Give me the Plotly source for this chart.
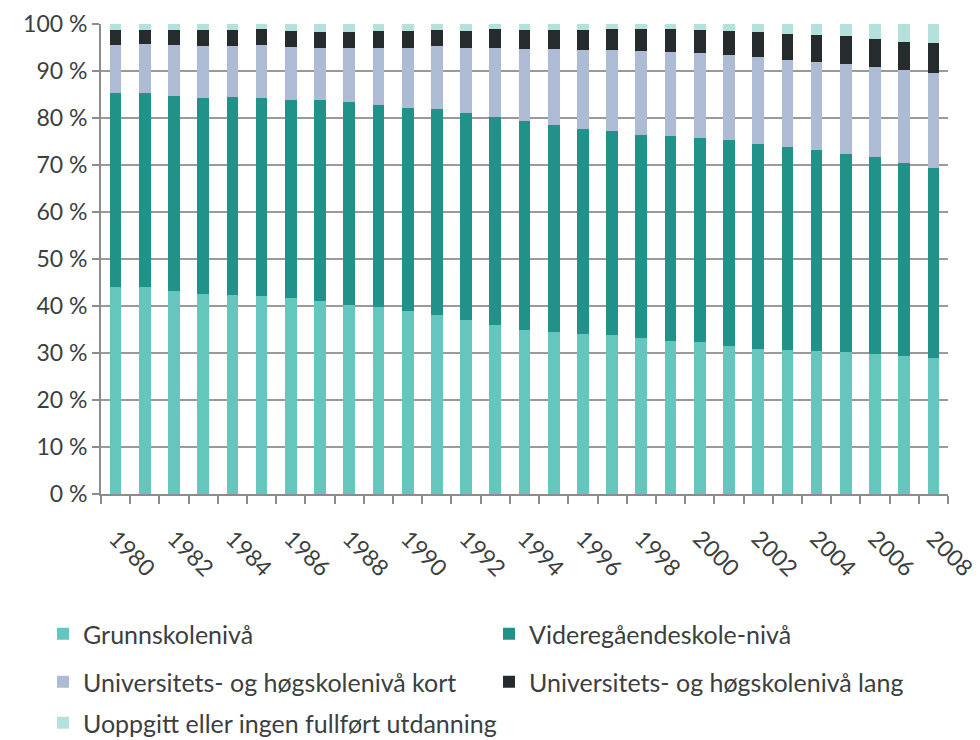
import plotly.graph_objects as go

years = list(range(1980, 2009))
grunn = [44.0, 44.0, 43.2, 42.6, 42.3, 42.2, 41.7, 41.1, 40.2, 39.8, 38.9, 38.1, 37.0, 36.0, 34.9,
         34.5, 34.0, 33.8, 33.2, 32.6, 32.3, 31.4, 30.8, 30.6, 30.4, 30.2, 29.8, 29.4, 28.9]
vgs = [41.3, 41.4, 41.5, 41.7, 42.1, 42.1, 42.2, 42.8, 43.1, 43.0, 43.3, 43.8, 44.1, 44.3, 44.4,
       44.0, 43.7, 43.4, 43.2, 43.6, 43.4, 43.9, 43.7, 43.2, 42.8, 42.2, 41.8, 41.0, 40.5]
kort = [10.2, 10.3, 10.8, 11.0, 11.0, 11.2, 11.2, 11.1, 11.6, 12.2, 12.8, 13.4, 13.9, 14.7, 15.4,
        16.2, 16.7, 17.2, 17.9, 17.9, 18.1, 18.2, 18.4, 18.6, 18.8, 19.1, 19.3, 19.8, 20.2]
lang = [3.2, 3.0, 3.2, 3.4, 3.3, 3.4, 3.4, 3.4, 3.5, 3.5, 3.5, 3.4, 3.5, 3.9, 4.0,
        4.0, 4.3, 4.5, 4.6, 4.8, 4.9, 5.0, 5.3, 5.5, 5.7, 5.9, 5.9, 6.0, 6.4]
uoppgitt = [1.3, 1.3, 1.3, 1.3, 1.3, 1.1, 1.5, 1.6, 1.6, 1.5, 1.5, 1.3, 1.5, 1.1, 1.3,
            1.3, 1.3, 1.1, 1.1, 1.1, 1.3, 1.5, 1.8, 2.1, 2.3, 2.6, 3.2, 3.8, 4.0]

series_names = ["Grunnskolenivå", "Videregåendeskole-nivå", "Universitets- og høgskolenivå kort",
                "Universitets- og høgskolenivå lang", "Uoppgitt eller ingen fullført utdanning"]
series_values = [grunn, vgs, kort, lang, uoppgitt]
colors = ["#65c6bd", "#21928a", "#adbbd4", "#262c2d", "#b5e1dd"]
tick_years = list(range(1980, 2009, 2))

FONT = "Lato, 'Open Sans', sans-serif"
TXT = "#3b3f40"
W, H = 980, 740

# legend entry positions in pixels (left edge, vertical centre)
leg_px = [(43, 634), (489, 634), (43, 682), (489, 682), (43, 723)]

fig = go.Figure()
layout_legends = {}
for i, (name, vals, col) in enumerate(zip(series_names, series_values, colors)):
    key = f"legend{i+2}"
    fig.add_trace(go.Bar(x=years, y=vals, name=name, marker=dict(color=col, line=dict(width=0)),
                         width=0.4, legend=key))
    px, py = leg_px[i]
    layout_legends[key] = dict(x=px / W, y=1 - py / H, xref="container", yref="container",
                               xanchor="left", yanchor="middle",
                               font=dict(family=FONT, size=25, color=TXT),
                               bgcolor="rgba(0,0,0,0)", borderwidth=0)

fig.update_layout(
    barmode="stack",
    width=W, height=H,
    margin=dict(l=101, r=32, t=24, b=246, autoexpand=False),
    paper_bgcolor="white", plot_bgcolor="white",
    font=dict(family=FONT, size=23, color=TXT),
    showlegend=True,
    **layout_legends,
)
fig.update_xaxes(
    range=[1979.5, 2008.5], tickmode="array", tickvals=tick_years,
    ticktext=[str(y) for y in tick_years], tickangle=45, ticks="", ticklabelstandoff=20,
    showline=True, linecolor="#8c8c8c", linewidth=2, showgrid=False, zeroline=False,
    tickfont=dict(family=FONT, size=23, color=TXT), automargin=False,
    minor=dict(tickmode="linear", tick0=1979.5, dtick=1, ticks="outside", ticklen=8,
               tickcolor="#8c8c8c", tickwidth=2, showgrid=False),
)
fig.update_yaxes(
    range=[0, 100], dtick=10, ticksuffix=" %", ticks="outside", ticklen=7,
    tickcolor="#8c8c8c", tickwidth=2,
    showline=True, linecolor="#8c8c8c", linewidth=2,
    showgrid=True, gridcolor="#9a9a9a", gridwidth=2, zeroline=False,
    tickfont=dict(family=FONT, size=23, color=TXT), automargin=False,
)
fig.write_html("out.html", config={"displayModeBar": False},
               post_script="document.body.style.margin='0';document.body.style.padding='0';")
